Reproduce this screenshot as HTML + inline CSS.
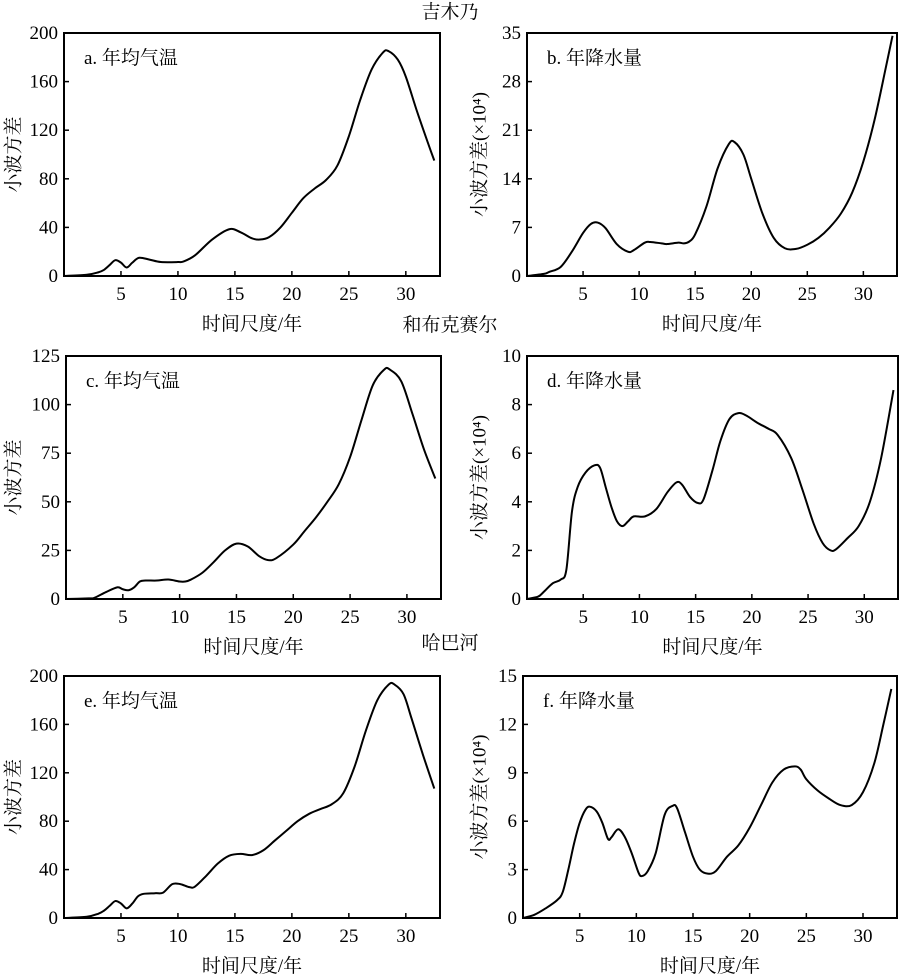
<!DOCTYPE html>
<html><head><meta charset="utf-8">
<style>
html,body{margin:0;padding:0;background:#fff;}
svg{display:block;font-family:"Liberation Serif","Noto Serif CJK SC","Noto Sans CJK SC",serif;}
</style></head>
<body>
<svg id="chart" width="900" height="975" viewBox="0 0 900 975" xmlns="http://www.w3.org/2000/svg">
<text x="450" y="18" text-anchor="middle" font-size="19">吉木乃</text>
<text x="450" y="331" text-anchor="middle" font-size="19">和布克赛尔</text>
<text x="450" y="649" text-anchor="middle" font-size="19">哈巴河</text>
</svg>
<script>
const xTicks=[5,10,15,20,25,30];
const aX=[0,2,3,3.5,4,4.5,5,5.5,6,6.6,7.5,8.5,10,10.5,11.5,13,14.5,15.5,16.5,17.2,18,19,20,21,22,23,24,25,26,27,28,28.5,29.3,30,31,32,32.5];
const aY=[0,1,3,5,9,13,11,7,11,15,13.5,11.5,11.5,12,17,30,38.5,36,31,30,32,40,52,64,72,79,91,115,145,170,184,185,178,164,135,108,95];
const bX=[0,1.5,2,3,4,5,5.7,6.3,7,8,9,9.5,10.5,11,12,12.5,13.5,14,14.5,15,16,17,18,18.5,19.3,20,21,22,23,24,25,26,27,28,29,30,31,32,32.6];
const bY=[0,0.3,0.6,1.3,3.5,6.2,7.5,7.7,6.9,4.6,3.5,3.7,4.8,4.9,4.7,4.6,4.8,4.7,5,6,10,15.5,19,19.3,17.5,14,9,5.5,4,3.9,4.5,5.5,7,9,12,16.5,22.5,30,34.6];
const cX=[0,2,2.5,3.5,4.5,5,5.5,6,6.5,7,8,9,10,10.5,11,12,13,14,15,16,17,17.8,18.5,20,21,22,23,24,25,26,27,28,28.5,29.5,30.5,31.5,32.5];
const cY=[0,0.3,0.6,3.5,6,5,4.5,6,9,9.5,9.5,10,9,9,10,13.5,19,25,28.5,27,22,20,21,28,35,42,50,59,73,92,110,118,118,112,95,77,62];
const dX=[0,1,1.5,2.3,3,3.5,4,4.5,5.2,6,6.5,7,7.5,8,8.5,9,9.5,10.5,11.5,12.5,13.3,13.8,14.5,15.2,15.7,16.5,17.2,18,18.8,19.5,20.5,21.5,22.3,23.5,24.5,25.5,26.3,27,27.5,28.5,29.5,30.5,31.5,32.6];
const dY=[0,0.1,0.3,0.65,0.8,1.2,3.6,4.6,5.2,5.5,5.4,4.6,3.8,3.2,3,3.2,3.4,3.4,3.7,4.4,4.8,4.7,4.2,3.95,4.1,5.3,6.5,7.4,7.65,7.55,7.25,7.0,6.75,5.8,4.5,3.1,2.3,2.0,2.05,2.5,3.0,4.0,5.8,8.6];
const eX=[0,2,3,3.5,4,4.5,5,5.5,6,6.5,7,8,8.7,9.5,10.2,11,11.5,12.5,13.5,14.5,15.5,16.5,17.5,18.5,19.5,20.5,21.5,22.5,23.5,24.5,25.5,26.5,27.5,28.5,29,29.8,30.5,31.5,32.5];
const eY=[0,1,3.5,6,10,14,12,8,12,18,20,20.5,21,28,28,25.5,26,35,45,51.5,53,52,56,64,72,80,86,90,94,103,125,155,180,193,193,185,165,135,107];
const fX=[0,1,2,3,3.5,4,4.5,5,5.5,5.9,6.5,7,7.5,7.8,8.4,9,9.6,10.2,10.5,11,11.7,12.5,13.2,13.6,14.3,15,15.6,16.3,17,18,19,20,21,22,23,24,24.5,25,26,27,28,29,30,31,31.8,32.5];
const fY=[0,0.2,0.6,1.1,1.6,3,4.6,5.9,6.7,6.9,6.6,5.9,4.9,5.0,5.5,5.0,4.0,2.8,2.6,2.9,4.0,6.4,6.95,6.8,5.3,3.8,3.0,2.75,2.9,3.8,4.5,5.6,7.0,8.4,9.2,9.4,9.2,8.6,7.9,7.4,7.0,7.0,7.8,9.6,12,14.2];
const aTicks=[0,40,80,120,160,200];
const bTicks=[0,7,14,21,28,35];
const cTicks=[0,25,50,75,100,125];
const dTicks=[0,2,4,6,8,10];
const eTicks=[0,40,80,120,160,200];
const fTicks=[0,3,6,9,12,15];

const NS="http://www.w3.org/2000/svg";
const svg=document.getElementById('chart');
function mk(tag,attrs,parent){const e=document.createElementNS(NS,tag);for(const k in attrs)e.setAttribute(k,attrs[k]);(parent||svg).appendChild(e);return e;}

const panels=[
 {id:'a',L:64,R:440,T:33,B:276,xs:aX,ys:aY,ticks:aTicks,label:'a. 年均气温',yl:'小波方差',ylx:14},
 {id:'b',L:527,R:897,T:33,B:276,xs:bX,ys:bY,ticks:bTicks,label:'b. 年降水量',yl:'小波方差(×10⁴)',ylx:480},
 {id:'c',L:66,R:441,T:356,B:599,xs:cX,ys:cY,ticks:cTicks,label:'c. 年均气温',yl:'小波方差',ylx:14},
 {id:'d',L:527,R:898,T:356,B:599,xs:dX,ys:dY,ticks:dTicks,label:'d. 年降水量',yl:'小波方差(×10⁴)',ylx:480},
 {id:'e',L:64,R:440,T:676,B:918,xs:eX,ys:eY,ticks:eTicks,label:'e. 年均气温',yl:'小波方差',ylx:14},
 {id:'f',L:523,R:897,T:676,B:918,xs:fX,ys:fY,ticks:fTicks,label:'f. 年降水量',yl:'小波方差(×10⁴)',ylx:480}
];
panels.forEach(p=>{
 const g=mk('g',{});
 
 
 const ymax=p.ticks[p.ticks.length-1];
 const sx=v=>p.L+(v/33)*(p.R-p.L);
 const sy=v=>p.B-(v/ymax)*(p.B-p.T);
 const fr=mk('rect',{x:p.L,y:p.T,width:p.R-p.L,height:p.B-p.T,fill:'none',stroke:'#000','stroke-width':2},g);
 
 
 xTicks.forEach(t=>{
  const x=sx(t);
  const tl=mk('line',{x1:x,x2:x,y1:p.B,y2:p.B-5,stroke:'#000','stroke-width':1.5},g);
  
  
  const tx=mk('text',{x:x,y:p.B+24,'text-anchor':'middle','font-size':19},g);
  tx.textContent=t;
  
  
 });
 p.ticks.forEach(t=>{
  const y=sy(t);
  const tl=mk('line',{x1:p.L,x2:p.L+5,y1:y,y2:y,stroke:'#000','stroke-width':1.5},g);
  
  
  const tx=mk('text',{x:p.L-6,y:y+6,'text-anchor':'end','font-size':19},g);
  tx.textContent=t;
  
  
 });
 const xt=mk('text',{x:(p.L+p.R)/2,y:p.B+54,'text-anchor':'middle','font-size':19},g);
 xt.textContent='时间尺度/年';
 
 
 const cy=(p.T+p.B)/2;
 const yt=mk('text',{x:p.ylx,y:cy,'text-anchor':'middle','font-size':19,transform:'rotate(-90 '+p.ylx+' '+cy+')','dominant-baseline':'central'},g);
 yt.textContent=p.yl;
 
 
 const lb=mk('text',{x:p.L+20,y:p.T+31,'font-size':19},g);
 lb.textContent=p.label;
 
 
 const pts=p.xs.map((x,i)=>[sx(x),sy(p.ys[i])]);
 let d='M'+pts[0][0].toFixed(2)+','+pts[0][1].toFixed(2);
 for(let i=0;i<pts.length-1;i++){
  const p0=pts[Math.max(0,i-1)],p1=pts[i],p2=pts[i+1],p3=pts[Math.min(pts.length-1,i+2)];
  const c1=[p1[0]+(p2[0]-p0[0])/6,p1[1]+(p2[1]-p0[1])/6];
  const c2=[p2[0]-(p3[0]-p1[0])/6,p2[1]-(p3[1]-p1[1])/6];
  d+=' C'+c1[0].toFixed(2)+','+c1[1].toFixed(2)+' '+c2[0].toFixed(2)+','+c2[1].toFixed(2)+' '+p2[0].toFixed(2)+','+p2[1].toFixed(2);
 }
 const ln=mk('path',{d:d,fill:'none',stroke:'#000','stroke-width':2},g);
 
 
});
</script>
</body></html>
